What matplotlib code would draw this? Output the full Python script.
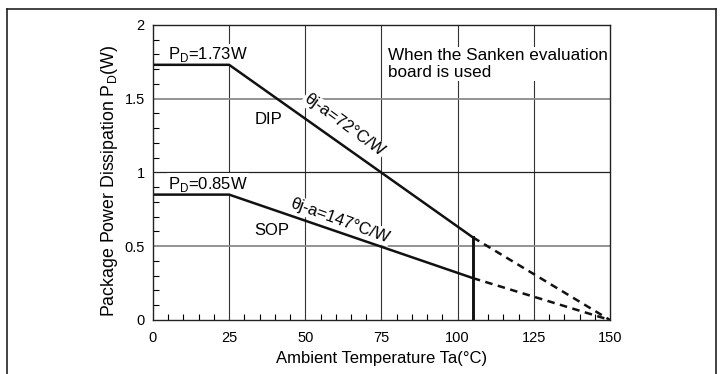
import matplotlib.pyplot as plt
from matplotlib.lines import Line2D
from matplotlib.ticker import MultipleLocator

plt.rcParams['font.family'] = ['Liberation Sans', 'DejaVu Sans']

# derating curves
dip_x = [0, 25, 105]
dip_y = [1.73, 1.73, 0.56]
dip_dash_x = [105, 150]
dip_dash_y = [0.56, 0]

sop_x = [0, 25, 105]
sop_y = [0.85, 0.85, 0.284]
sop_dash_x = [105, 150]
sop_dash_y = [0.284, 0]

limit_x = 105
x_ticks = [0, 25, 50, 75, 100, 125, 150]
y_ticks = [0, 0.5, 1, 1.5, 2]
y_tick_labels = ['0', '0.5', '1', '1.5', '2']

fig = plt.figure(figsize=(7.24, 3.74), dpi=100)
ax = fig.add_axes([0.2113, 0.1444, 0.6312, 0.7888])

# grid
for xv in [25, 50, 75, 100, 125]:
    ax.axvline(xv, color='#333333', lw=0.8, zorder=1)
ax.axhline(1, color='#222222', lw=0.9, zorder=1)
for yv in [0.5, 1.5]:
    ax.axhline(yv, color='#8a8a8a', lw=1.3, zorder=1)

lw = 1.8
ax.plot(dip_x, dip_y, color='#111111', lw=lw, zorder=3, solid_capstyle='butt')
ax.plot(sop_x, sop_y, color='#111111', lw=lw, zorder=3, solid_capstyle='butt')
ax.plot(dip_dash_x, dip_dash_y, color='#111111', lw=lw, ls=(0, (3, 2.2)), zorder=3)
ax.plot(sop_dash_x, sop_dash_y, color='#111111', lw=lw, ls=(0, (3, 2.2)), zorder=3)
ax.plot([limit_x, limit_x], [0, dip_y[-1]], color='#111111', lw=lw + 0.3, zorder=3)

ax.set_xlim(0, 150)
ax.set_ylim(0, 2)
ax.set_xticks(x_ticks)
ax.set_yticks(y_ticks)
ax.set_yticklabels(y_tick_labels)
ax.xaxis.set_minor_locator(MultipleLocator(5))
ax.yaxis.set_minor_locator(MultipleLocator(0.1))
ax.tick_params(which='both', direction='in', top=False, right=False)
ax.tick_params(which='major', length=0, labelsize=10.5)
ax.tick_params(axis='x', which='major', pad=8)
ax.tick_params(axis='y', which='major', pad=6)
ax.tick_params(which='minor', length=4, width=0.8)
for s in ax.spines.values():
    s.set_linewidth(1.0)
    s.set_color('#222222')
    s.set_zorder(4)

ax.set_xlabel('Ambient Temperature Ta(°C)', fontsize=12, labelpad=4)
ax.set_ylabel('Package Power Dissipation P$_\\mathregular{D}$(W)', fontsize=12.8)
ax.yaxis.set_label_coords(-0.072, 0.47)

box = dict(facecolor='white', edgecolor='none', pad=1.0)
fs = 12
ax.text(5, 1.80, 'P$_\\mathregular{D}$=1.73W', fontsize=fs, va='center', ha='left', bbox=box, zorder=2)
ax.text(5, 0.92, 'P$_\\mathregular{D}$=0.85W', fontsize=fs, va='center', ha='left', bbox=box, zorder=2)
ax.text(38, 1.36, 'DIP', fontsize=fs, va='center', ha='center', bbox=box, zorder=2)
ax.text(39, 0.61, 'SOP', fontsize=fs, va='center', ha='center', bbox=box, zorder=2)
ax.text(62.7, 1.32, 'θj-a=72°C/W', fontsize=fs, va='center', ha='center',
        rotation=-36, rotation_mode='anchor', bbox=box, zorder=2)
ax.text(61.4, 0.675, 'θj-a=147°C/W', fontsize=fs, va='center', ha='center',
        rotation=-20, rotation_mode='anchor', bbox=box, zorder=2)
ax.text(77.3, 1.735, 'When the Sanken evaluation\nboard is used', fontsize=12.3,
        va='center', ha='left', linespacing=1.15, bbox=box, zorder=2)

# outer frame (bottom edge cut off)
fx0, fx1, fy1 = 7 / 724, 716 / 724, 1 - 9 / 374
for xs, ys in [([fx0, fx0], [0, fy1]), ([fx0, fx1], [fy1, fy1]), ([fx1, fx1], [fy1, 0])]:
    fig.add_artist(Line2D(xs, ys, transform=fig.transFigure, color='#222222', lw=1.2))

fig.savefig('out.png', dpi=100)
